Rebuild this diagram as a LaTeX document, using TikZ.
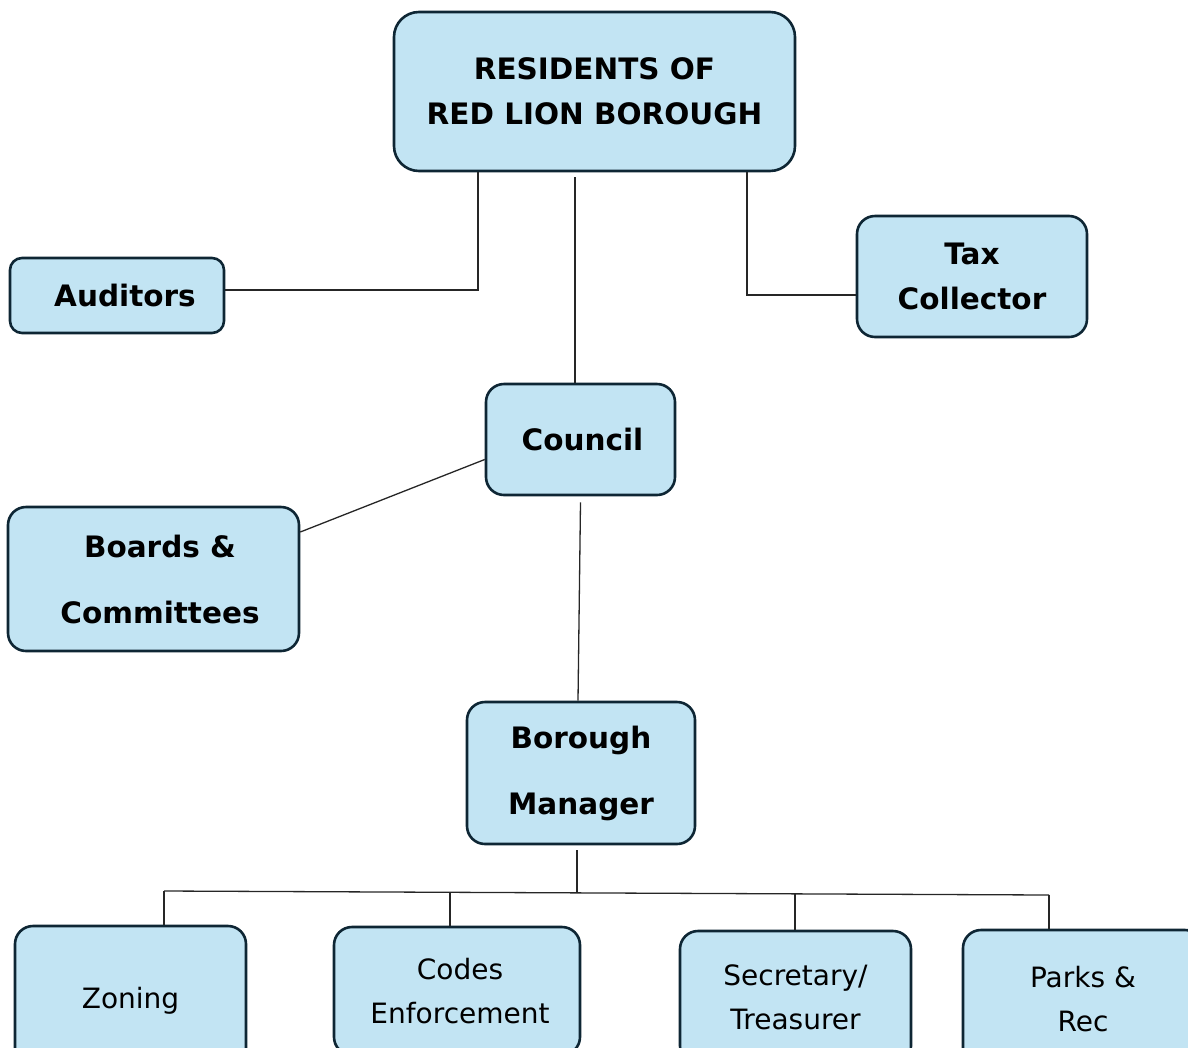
\documentclass[tikz,border=0pt]{standalone}
\usepackage{fontspec}
\setmainfont{DejaVu Sans}
\usetikzlibrary{positioning}
\definecolor{boxfill}{RGB}{194,228,243}
\definecolor{boxline}{RGB}{14,38,52}
\begin{document}
\begin{tikzpicture}[x=1pt, y=-1pt,
		  box/.style={draw=boxline, fill=boxfill, line width=2.6pt, rounded corners=18pt, align=center, inner sep=0pt},
		  head/.style={box, font=\fontsize{29.5}{45}\selectfont\bfseries},
		  wide/.style={box, font=\fontsize{29.5}{66}\selectfont\bfseries},
		  unit/.style={box, font=\fontsize{28}{44}\selectfont},
		  link/.style={line width=1.3pt, draw=black!85}
		]
		\useasboundingbox (0,0) rectangle (1188,1047);
		
		\node[head, rounded corners=25pt, minimum width=401pt, minimum height=159pt] (org_res) at (594.5,91.5) {RESIDENTS OF\\RED LION BOROUGH};
		\node[head, rounded corners=12pt, minimum width=214pt, minimum height=75pt] (org_aud) at (117,295.5) {\hspace{16pt}Auditors};
		\node[head, minimum width=230pt, minimum height=121pt] (org_tax) at (972,276.5) {Tax\\Collector};
		\node[head, minimum width=189pt, minimum height=111pt] (org_cnl) at (580.5,439.5) {\hspace{4pt}Council};
		\node[wide, minimum width=291pt, minimum height=144pt] (org_brd) at (153.5,579) {\hspace{13pt}Boards \&\\\hspace{13pt}Committees};
		\node[wide, minimum width=228pt, minimum height=142pt] (org_mgr) at (581,773) {Borough\\Manager};
		
		\node[unit, minimum width=231pt, minimum height=150pt] (org_zon) at (130.5,1001) {Zoning};
		\node[unit, minimum width=246pt, minimum height=128pt] (org_cod) at (457,991) {\hspace{6pt}Codes\\\hspace{6pt}Enforcement};
		\node[unit, minimum width=231pt, minimum height=133pt] (org_sec) at (795.5,997.5) {Secretary/\\Treasurer};
		\node[unit, minimum width=240pt, minimum height=138pt] (org_prk) at (1083,999) {Parks \&\\Rec};
		
		\coordinate (c_aud) at (478,290);
		\coordinate (c_tax) at (747,295);
		\coordinate (bar_mid) at (577,893);
		\coordinate (bar_zon) at (164,891);
		\coordinate (bar_cod) at (450,892);
		\coordinate (bar_sec) at (795,893.5);
		\coordinate (bar_prk) at (1049,895);
		
		\draw[link] (org_res.south -| c_aud) -- (c_aud) -- (org_aud.east |- c_aud);
		\draw[link] ([xshift=-19.5pt,yshift=-5pt]org_res.south) -- ([xshift=-5.5pt]org_cnl.north);
		\draw[link] (org_res.south -| c_tax) -- (c_tax) -- (org_tax.west |- c_tax);
		\draw[link] ([yshift=-20pt]org_cnl.west) -- ([yshift=47pt]org_brd.east);
		\draw[link] ([yshift=-6pt]org_cnl.south) -- ([xshift=-3pt]org_mgr.north);
		\draw[link] ([xshift=-4pt,yshift=-5pt]org_mgr.south) -- (bar_mid);
		\draw[link] (bar_zon) -- (bar_prk);
		\draw[link] (bar_zon) -- (org_zon.north -| bar_zon);
		\draw[link] (bar_cod) -- (org_cod.north -| bar_cod);
		\draw[link] (bar_sec) -- (org_sec.north -| bar_sec);
		\draw[link] (bar_prk) -- (org_prk.north -| bar_prk);
		\end{tikzpicture}
\end{document}
